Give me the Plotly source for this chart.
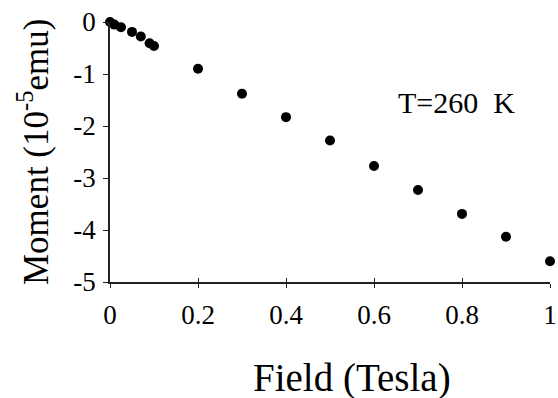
import plotly.graph_objects as go

field = [0, 0.01, 0.025, 0.05, 0.07, 0.09, 0.1, 0.2, 0.3, 0.4, 0.5, 0.6, 0.7, 0.8, 0.9, 1.0]
moment = [0.0, -0.05, -0.1, -0.19, -0.28, -0.41, -0.46, -0.90, -1.38, -1.83, -2.28, -2.77, -3.23, -3.69, -4.13, -4.60]

x_ticks = [0, 0.2, 0.4, 0.6, 0.8, 1.0]
x_ticktext = ["0", "0.2", "0.4", "0.6", "0.8", "1"]
y_ticks = [0, -1, -2, -3, -4, -5]
y_ticktext = ["0", "-1", "-2", "-3", "-4", "-5"]

FONT = "Liberation Serif, Times New Roman, serif"

fig = go.Figure()
fig.add_trace(go.Scatter(
    x=field, y=moment, mode="markers",
    marker=dict(color="black", size=10),
    cliponaxis=False, showlegend=False,
))
# invisible trace on second x-axis for inside ticks
fig.add_trace(go.Scatter(x=[field[0]], y=[moment[0]], xaxis="x2", mode="markers",
                         marker=dict(opacity=0), showlegend=False, hoverinfo="skip"))

fig.update_layout(
    width=558, height=398,
    margin=dict(l=110, r=8, t=22, b=116, autoexpand=False),
    paper_bgcolor="white", plot_bgcolor="white",
    font=dict(family=FONT, color="black"),
    xaxis=dict(
        range=[0, 1], tickvals=x_ticks, ticktext=x_ticktext, automargin=False,
        showgrid=False, zeroline=False, showline=True, linecolor="#222", linewidth=1.5,
        ticks="outside", ticklen=4, tickwidth=1.2, tickcolor="#222",
        tickfont=dict(size=27, family=FONT), ticklabelstandoff=4,
        ticklabeloverflow="allow",
    ),
    xaxis2=dict(
        range=[0, 1], overlaying="x", side="bottom", tickvals=x_ticks, automargin=False,
        showticklabels=False, showgrid=False, zeroline=False, showline=False,
        ticks="inside", ticklen=4, tickwidth=1.2, tickcolor="#222",
    ),
    yaxis=dict(
        range=[-5, 0], tickvals=y_ticks, ticktext=y_ticktext, automargin=False,
        showgrid=False, zeroline=False, showline=True, linecolor="#222", linewidth=1.5,
        ticks="outside", ticklen=5, tickwidth=1.2, tickcolor="#222",
        tickfont=dict(size=27, family=FONT), ticklabelstandoff=2,
        ticklabeloverflow="allow",
    ),
    annotations=[
        dict(
            text="T=260  K", xref="paper", yref="paper", x=0.925, y=0.692,
            xanchor="right", yanchor="middle", showarrow=False,
            font=dict(size=30, family=FONT),
        ),
        dict(
            text="Field (Tesla)", xref="paper", yref="paper", x=0.55, y=-0.369,
            xanchor="center", yanchor="middle", showarrow=False,
            font=dict(size=39, family=FONT),
        ),
        dict(
            text="Moment (10<sup>-5</sup>emu)", xref="paper", yref="paper", x=-0.175, y=0.5,
            xanchor="center", yanchor="middle", showarrow=False, textangle=-90,
            font=dict(size=35, family=FONT),
        ),
    ],
)

fig.write_html(
    "out.html",
    config={"displayModeBar": False},
    post_script="document.body.style.margin='0';document.body.style.overflow='hidden';",
)
